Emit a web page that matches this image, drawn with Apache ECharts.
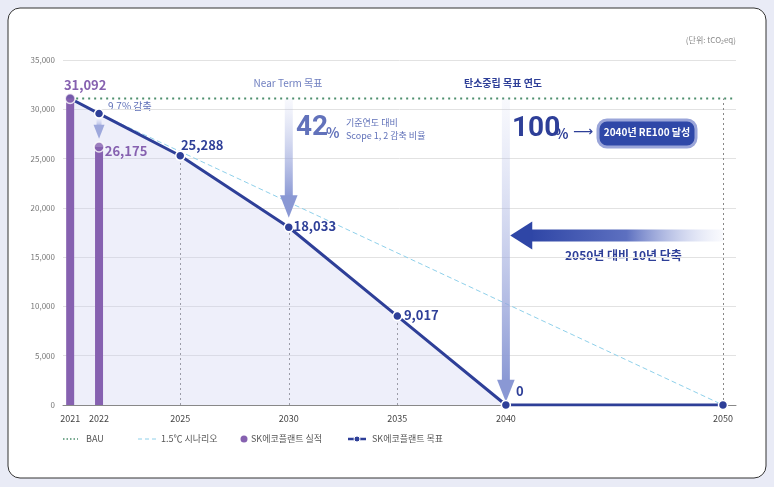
<!DOCTYPE html>
<html><head><meta charset="utf-8">
<script src="https://cdn.jsdelivr.net/npm/echarts@6/dist/echarts.min.js"></script>
<style>html,body{margin:0;padding:0;background:#e9ebf6}#c{width:774px;height:487px}</style>
</head><body><div id="c"></div>
<script>
// axis positions for years (2021/2022 are drawn compressed in the original)
const yearLabels = ['2021','2022','2025','2030','2035','2040','2050'];
const yearPos = [2019.93, 2021.26, 2025, 2030, 2035, 2040, 2050];
const actualValues = [31092, 26175];          // 2021, 2022
const targetValues = [31092, 29560, 25288, 18033, 9017, 0, 0];
const bauValue = 31092;
const scenarioValues = [29560, 0];            // 2022 -> 2050
const yTicks = [0,5000,10000,15000,20000,25000,30000,35000];

const F = '"Noto Sans CJK KR","Noto Sans",sans-serif';
const navy = '#2e3f98', purple = '#8661b0';
const chart = echarts.init(document.getElementById('c'));

function arrowV(params, api){
  const x = api.value(0), y1 = api.value(1), y2 = api.value(2);
  const p1 = api.coord([x,y1]), p2 = api.coord([x,y2]);
  const w = api.value(3), hw = w*2.2, hl = w*2.8;
  const grad = new echarts.graphic.LinearGradient(0,0,0,1,[{offset:0,color:'rgba(190,198,235,0.1)'},{offset:1,color:'#8a98d4'}]);
  return {type:'group',children:[
    {type:'rect',shape:{x:p1[0]-w/2,y:p1[1],width:w,height:p2[1]-p1[1]-hl+2},style:{fill:grad}},
    {type:'polygon',shape:{points:[[p2[0]-hw/2,p2[1]-hl],[p2[0]+hw/2,p2[1]-hl],[p2[0],p2[1]]]},style:{fill:'#8a98d4'}}
  ]};
}
function arrowH(params, api){
  const p1 = api.coord([api.value(0),api.value(2)]), p2 = api.coord([api.value(1),api.value(2)]);
  const grad = new echarts.graphic.LinearGradient(0,0,1,0,[{offset:0,color:'#2f46a6'},{offset:0.5,color:'#5d70c0'},{offset:1,color:'rgba(200,208,240,0.1)'}]);
  return {type:'group',children:[
    {type:'rect',shape:{x:p1[0]+20,y:p1[1]-6,width:p2[0]-p1[0]-20,height:12},style:{fill:grad}},
    {type:'polygon',shape:{points:[[p1[0],p1[1]],[p1[0]+22,p1[1]-14],[p1[0]+22,p1[1]+14]]},style:{fill:'#2f46a6'}}
  ]};
}

const tLabelOff = [null,null,[22,6],[26,16],[24,16],[14,3],null];
const targetData = targetValues.map((v,i)=>{
  const d = {value:[yearPos[i],v]};
  if (tLabelOff[i]) d.label = {show:true,position:'top',offset:tLabelOff[i],formatter:v.toLocaleString('en-US'),color:navy,fontWeight:'bold',fontSize:13,fontFamily:F};
  return d;
});
const aLabelOff = [[15,-2],[27,16]];

chart.setOption({
  animation:false,
  grid:{left:63,right:38,top:60,bottom:82},
  xAxis:{type:'value',min:2019.6,max:2050.6,splitLine:{show:false},axisTick:{show:false},
    axisLine:{lineStyle:{color:'#888'}},axisLabel:{show:false}},
  yAxis:{type:'value',min:0,max:35000,interval:5000,
    axisLabel:{fontSize:8,color:'#777',fontFamily:F,formatter:v=>v.toLocaleString('en-US'),margin:8},
    splitLine:{lineStyle:{color:'#e2e2e2'}},axisLine:{show:false},axisTick:{show:false}},
  series:[
    {type:'bar',barWidth:8,itemStyle:{color:purple},z:6,
     data:actualValues.map((v,i)=>({value:[yearPos[i],v],
       label:{show:true,position:'top',offset:aLabelOff[i],formatter:v.toLocaleString('en-US'),color:purple,fontWeight:'bold',fontSize:13,fontFamily:F}}))},
    {type:'line',symbol:'none',z:2,lineStyle:{color:'#4e8f6e',type:[2,4],width:2},
     data:[[yearPos[0],bauValue],[2050.6,bauValue]]},
    {type:'line',symbol:'none',z:2,lineStyle:{color:'#8fd0ea',type:[5,3],width:1},
     data:[[yearPos[1],scenarioValues[0]],[yearPos[6],scenarioValues[1]]]},
    {type:'line',z:5,symbol:'circle',symbolSize:9,lineStyle:{color:navy,width:3},
     itemStyle:{color:navy,borderColor:'#fff',borderWidth:1.5},
     areaStyle:{color:'rgba(200,205,238,0.45)'},
     data:targetData,
     markLine:{symbol:'none',silent:true,label:{show:false},lineStyle:{color:'#888',type:[2,3],width:1},
       data:[2,3,4].map(i=>[{coord:[yearPos[i],0]},{coord:[yearPos[i],targetValues[i]]}]).concat([[{coord:[2050,0]},{coord:[2050,bauValue]}]])}},
    {type:'scatter',symbol:'circle',symbolSize:10,z:7,itemStyle:{color:purple,borderColor:'#fff',borderWidth:1.5},
     data:actualValues.map((v,i)=>[yearPos[i],v])},
    {type:'custom',renderItem:arrowV,z:4,data:[[2030,bauValue,19000,8],[2040,bauValue,300,8],[yearPos[1],29000,27000,5]]},
    {type:'custom',renderItem:arrowH,z:4,data:[[2040.2,2050,17200]]}
  ],
  graphic:[
    {type:'rect',z:-10,shape:{x:8,y:8,width:758,height:470,r:12},style:{fill:'#fff',stroke:'#333',lineWidth:1}},
    {type:'rect',z:-11,shape:{x:0,y:0,width:774,height:487},style:{fill:'#e9ebf6'}},
    ...yearLabels.map((t,i)=>({type:'text',z:10,style:{text:t,x:63+(yearPos[i]-2019.6)/31*673,y:414,align:'center',fontSize:9,fill:'#444',fontFamily:F}})),
    {type:'text',style:{text:'(단위: tCO₂eq)',x:736,y:36,align:'right',fontSize:8,fill:'#888',fontFamily:F}},
    {type:'text',style:{text:'9.7% 감축',x:108,y:101,fontSize:10,fill:'#5f70b8',fontFamily:F}},
    {type:'text',style:{text:'Near Term 목표',x:288,y:78,align:'center',fontSize:10,fill:'#6f7fc0',fontFamily:F}},
    {type:'text',style:{text:'42',x:296,y:114,fontSize:28,fontWeight:'bold',fill:'#6272bb',fontFamily:'"Liberation Sans Narrow",Roboto,sans-serif'}},
    {type:'text',style:{text:'%',x:326,y:126,fontSize:14,fontWeight:'bold',fill:'#6272bb',fontFamily:F}},
    {type:'text',style:{text:'기준연도 대비',x:346,y:118,fontSize:9,fill:'#5f70b8',fontFamily:F}},
    {type:'text',style:{text:'Scope 1, 2 감축 비율',x:346,y:131,fontSize:9,fill:'#5f70b8',fontFamily:F}},
    {type:'text',style:{text:'탄소중립 목표 연도',x:503,y:78,align:'center',fontSize:10,fontWeight:'bold',fill:navy,fontFamily:F}},
    {type:'text',style:{text:'100',x:512,y:115,fontSize:28,fontWeight:'bold',fill:navy,fontFamily:'"Liberation Sans Narrow",Roboto,sans-serif'}},
    {type:'text',style:{text:'%',x:555,y:127,fontSize:14,fontWeight:'bold',fill:navy,fontFamily:F}},
    {type:'text',style:{text:'⟶',x:573,y:125,fontSize:14,fill:navy,fontFamily:'DejaVu Sans'}},
    {type:'rect',shape:{x:598,y:120,width:98,height:27,r:9},style:{fill:'#2f48a8',stroke:'#9aa5d9',lineWidth:3}},
    {type:'text',style:{text:'2040년 RE100 달성',x:647,y:127,align:'center',fontSize:10,fontWeight:'bold',fill:'#fff',fontFamily:F}},
    {type:'text',style:{text:'2050년 대비 10년 단축',x:565,y:249,fontSize:12,fontWeight:'bold',fill:navy,fontFamily:F}},
    // legend
    {type:'line',shape:{x1:63,y1:439,x2:78,y2:439},style:{stroke:'#4e8f6e',lineDash:[1.5,2],lineWidth:1.5}},
    {type:'text',style:{text:'BAU',x:86,y:434,fontSize:9,fill:'#555',fontFamily:F}},
    {type:'line',shape:{x1:138,y1:439,x2:156,y2:439},style:{stroke:'#8fd0ea',lineDash:[4,3],lineWidth:1}},
    {type:'text',style:{text:'1.5℃ 시나리오',x:161,y:434,fontSize:9,fill:'#555',fontFamily:F}},
    {type:'circle',shape:{cx:244,cy:439,r:3.5},style:{fill:purple}},
    {type:'text',style:{text:'SK에코플랜트 실적',x:251,y:434,fontSize:9,fill:'#555',fontFamily:F}},
    {type:'line',shape:{x1:348,y1:439,x2:366,y2:439},style:{stroke:navy,lineWidth:2.5}},
    {type:'circle',shape:{cx:357,cy:439,r:3},style:{fill:navy,stroke:'#fff',lineWidth:1}},
    {type:'text',style:{text:'SK에코플랜트 목표',x:372,y:434,fontSize:9,fill:'#555',fontFamily:F}}
  ]
});
</script></body></html>
